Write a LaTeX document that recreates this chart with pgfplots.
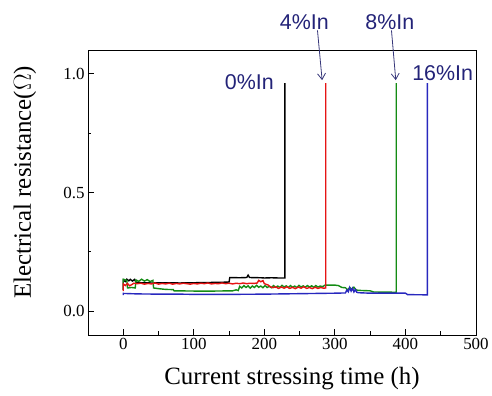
\documentclass[border=0pt]{standalone}
\usepackage{pgfplots}
\pgfplotsset{compat=1.18}
\usepackage{fontspec}
\setmainfont{Liberation Serif}
\newfontfamily\arial{Liberation Sans}
\usetikzlibrary{arrows.meta}
\definecolor{navy}{RGB}{35,35,120}
\definecolor{mygreen}{RGB}{20,140,20}
\definecolor{myred}{RGB}{230,20,20}
\definecolor{myblue}{RGB}{40,40,190}
\begin{document}
\begin{tikzpicture}[x=1bp,y=1bp]
\begin{axis}[
  at={(0,0)}, anchor=south west,
  scale only axis, width=388bp, height=285bp,
  xmin=-50, xmax=500, ymin=-0.1, ymax=1.1,
  xtick={0,100,...,500}, minor x tick num=1,
  ytick={0,0.5,1}, minor y tick num=1,
  tick pos=left, tick align=inside,
  major tick length=6bp, minor tick length=3.5bp,
  axis line style={line width=0.9bp},
  every tick/.style={line width=0.9bp, black},
  /pgf/number format/assume math mode=true,
  yticklabel={\pgfmathprintnumber[fixed,fixed zerofill,precision=1]{\tick}},
  scaled y ticks=false,
  ticklabel style={font=\fontsize{17}{20}\selectfont},
  xlabel={Current stressing time (h)},
  ylabel={Electrical resistance(\(\Omega\))},
  label style={font=\fontsize{25}{30}\selectfont},
  xlabel style={at={(axis description cs:0.5,0)}, anchor=base, yshift=-50bp, xshift=10bp},
  ylabel style={at={(axis description cs:0,0.5)}, anchor=center, xshift=10bp, yshift=63bp},
  clip=false,
]
% 0% In (black)
\addplot[black, line width=1.4bp] coordinates {
(0,0.09) (0,0.13) (3,0.125) (5,0.135) (8,0.128) (10,0.134) (13,0.127) (16,0.134) (18,0.122)
(25,0.12) (40,0.119) (60,0.12) (80,0.119) (100,0.12) (120,0.121) (140,0.122) (150,0.123)
(151,0.142) (165,0.141) (175,0.142) (177,0.152) (179,0.142) (195,0.141) (200,0.14) (210,0.141)
(220,0.14) (228,0.14) (229,0.14) (229,0.96)};
% 8% In (green)
\addplot[mygreen, line width=1.4bp] coordinates {
(0,0.09) (0,0.135) (5,0.13) (6,0.098) (12,0.1) (17,0.098) (18,0.132) (22,0.126) (26,0.135)
(30,0.127) (34,0.133) (38,0.125) (42,0.13) (43,0.098) (50,0.095) (60,0.092) (71,0.091)
(72,0.086) (100,0.085) (130,0.085) (155,0.086) (160,0.09) (163,0.087) (165,0.105) (168,0.098)
(171,0.108) (174,0.1) (177,0.107) (180,0.097) (183,0.106) (186,0.1) (189,0.109) (192,0.101)
(195,0.106) (198,0.099) (201,0.108) (204,0.1) (207,0.105) (210,0.099) (213,0.108) (216,0.101)
(219,0.106) (222,0.1) (225,0.109) (228,0.102) (231,0.107) (234,0.1) (237,0.108) (240,0.101)
(243,0.106) (246,0.1) (249,0.109) (252,0.102) (255,0.107) (258,0.101) (261,0.108) (264,0.102)
(267,0.107) (270,0.101) (273,0.108) (276,0.102) (279,0.106) (283,0.104) (286,0.11) (300,0.11)
(305,0.108) (310,0.1) (315,0.099) (318,0.09) (321,0.1) (324,0.092) (327,0.101) (330,0.09)
(333,0.088) (350,0.086) (355,0.081) (386,0.08) (387,0.08) (387,0.96)};
% 4% In (red)
\addplot[myred, line width=1.4bp] coordinates {
(0,0.085) (0,0.115) (3,0.108) (6,0.117) (9,0.107) (12,0.112) (15,0.118) (20,0.116) (25,0.118)
(30,0.114) (35,0.117) (40,0.115) (45,0.119) (50,0.114) (55,0.117) (60,0.115) (65,0.118)
(70,0.114) (75,0.117) (80,0.115) (85,0.118) (90,0.116) (95,0.114) (100,0.117) (105,0.115)
(110,0.118) (115,0.116) (120,0.119) (125,0.115) (130,0.117) (135,0.116) (140,0.119)
(145,0.116) (150,0.118) (155,0.115) (160,0.118) (165,0.116) (170,0.119) (175,0.116)
(180,0.118) (185,0.117) (190,0.119) (192,0.13) (195,0.124) (198,0.129) (200,0.116)
(205,0.111) (208,0.104) (212,0.099) (216,0.103) (220,0.096) (224,0.102) (228,0.097)
(232,0.103) (236,0.096) (240,0.101) (244,0.095) (248,0.102) (252,0.097) (256,0.103)
(260,0.096) (264,0.1) (268,0.095) (272,0.101) (276,0.096) (280,0.1) (284,0.097) (287,0.098) (287,0.96)};
% 16% In (blue)
\addplot[myblue, line width=1.4bp] coordinates {
(0,0.068) (0,0.075) (20,0.073) (50,0.072) (80,0.072) (100,0.071) (150,0.071) (200,0.072)
(250,0.074) (300,0.076) (315,0.077) (317,0.09) (319,0.082) (321,0.1) (323,0.085) (325,0.097)
(327,0.081) (329,0.092) (331,0.08) (333,0.078) (350,0.076) (380,0.076) (400,0.076) (403,0.07)
(430,0.069) (431,0.069) (431,0.96)};
% annotations
\node[font=\arial\fontsize{21.5}{24}\selectfont, text=navy] at (axis cs:178.8,0.965) {0\%In};
\node[font=\arial\fontsize{21.5}{24}\selectfont, text=navy] at (axis cs:256.7,1.217) {4\%In};
\node[font=\arial\fontsize{21.5}{24}\selectfont, text=navy] at (axis cs:377.8,1.217) {8\%In};
\node[font=\arial\fontsize{21.5}{24}\selectfont, text=navy] at (axis cs:452.8,1.003) {16\%In};
\draw[navy!80!gray, line width=0.8bp, -{Straight Barb[length=6bp,width=8bp]}] (axis cs:275.3,1.183) -- (axis cs:281.9,0.973);
\draw[navy!80!gray, line width=0.8bp, -{Straight Barb[length=6bp,width=8bp]}] (axis cs:380.2,1.183) -- (axis cs:386.3,0.973);
\end{axis}
\path[use as bounding box] (-88,-61) rectangle (404,335);
\end{tikzpicture}
\end{document}
